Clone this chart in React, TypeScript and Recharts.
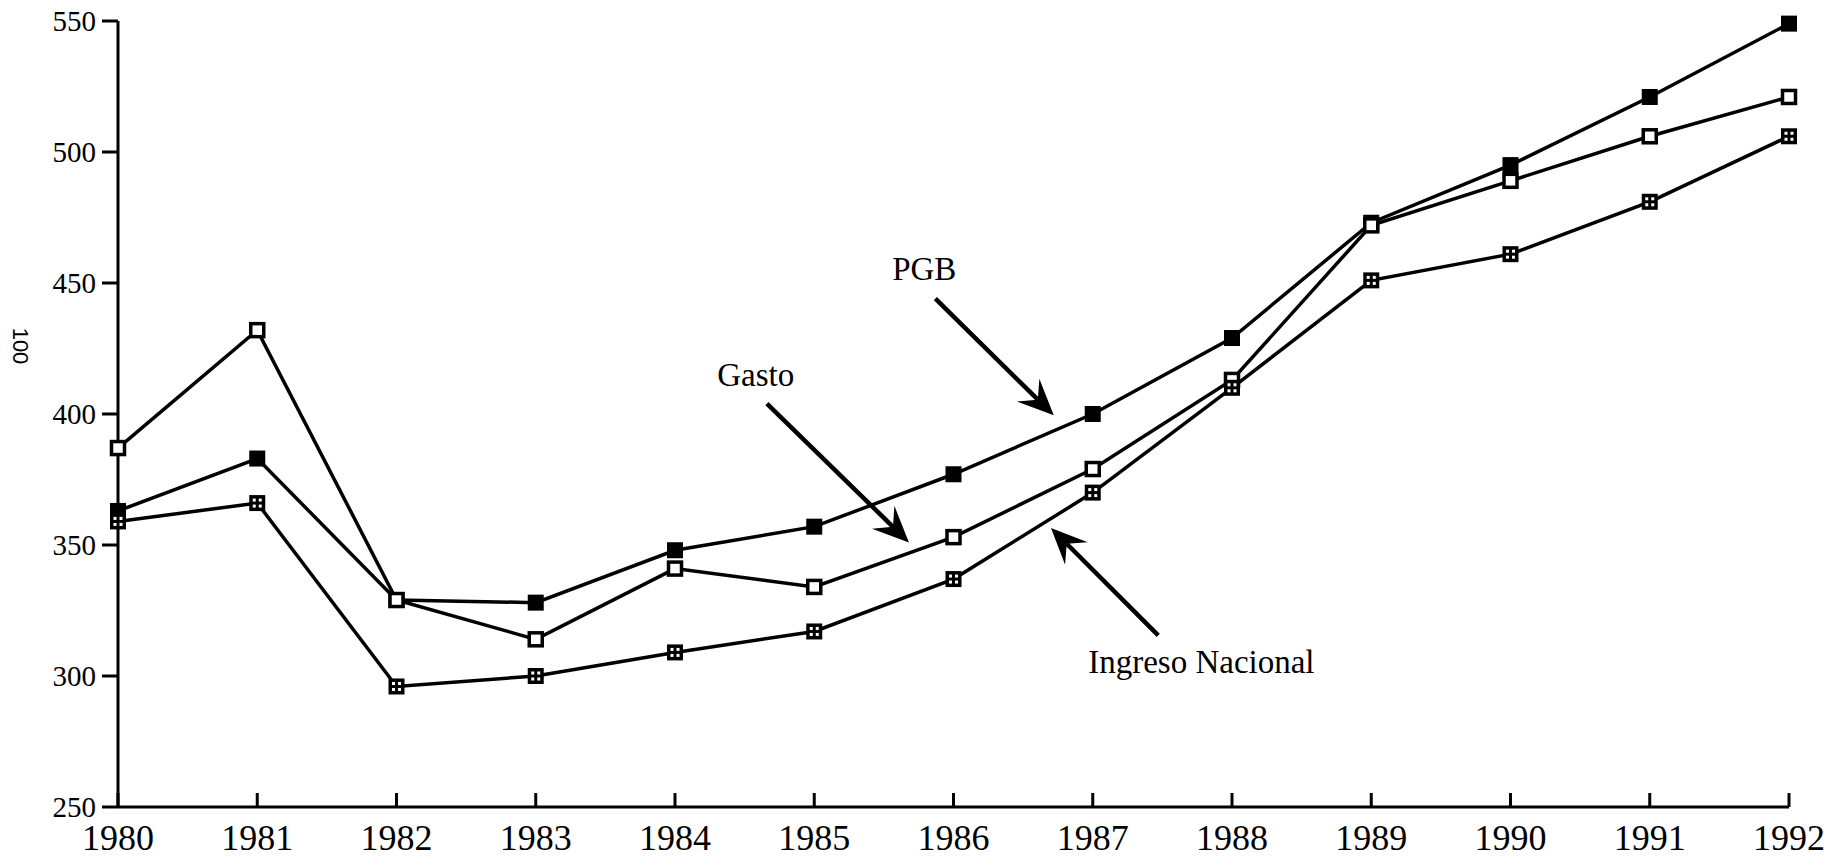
import React from 'react';
import { LineChart, Line, XAxis, YAxis, ReferenceLine, ReferenceDot, Label } from 'recharts';

const years = [1980, 1981, 1982, 1983, 1984, 1985, 1986, 1987, 1988, 1989, 1990, 1991, 1992];
const pgb = [363, 383, 329, 328, 348, 357, 377, 400, 429, 473, 495, 521, 549];
const gasto = [387, 432, 329, 314, 341, 334, 353, 379, 413, 472, 489, 506, 521];
const ingreso = [359, 366, 296, 300, 309, 317, 337, 370, 410, 451, 461, 481, 506];
const yTicks = [250, 300, 350, 400, 450, 500, 550];

// annotation arrows [from, to] in data coordinates
const arrows = [
  { from: { x: 1985.87, y: 444 }, to: { x: 1986.72, y: 399.5 } },
  { from: { x: 1984.66, y: 404 }, to: { x: 1985.68, y: 351 } },
  { from: { x: 1987.47, y: 315.5 }, to: { x: 1986.7, y: 356.5 } },
];
const notes = [
  { text: 'PGB', x: 1985.79, y: 451 },
  { text: 'Gasto', x: 1984.58, y: 410.5 },
  { text: 'Ingreso Nacional', x: 1987.78, y: 301 },
];

const data = years.map((year, i) => ({ year, pgb: pgb[i], gasto: gasto[i], ingreso: ingreso[i] }));

const SERIF = '"Liberation Serif", "Times New Roman", serif';

const FilledDot = (props: any) => {
  const { cx, cy } = props;
  if (cx == null || cy == null) return null;
  return <rect x={cx - 8} y={cy - 8} width={16} height={16} fill="#000" />;
};

const OpenDot = (props: any) => {
  const { cx, cy } = props;
  if (cx == null || cy == null) return null;
  return <rect x={cx - 6.5} y={cy - 6.5} width={13} height={13} fill="#fff" stroke="#000" strokeWidth={3.5} />;
};

const GridDot = (props: any) => {
  const { cx, cy } = props;
  if (cx == null || cy == null) return null;
  return (
    <g>
      <rect x={cx - 8} y={cy - 8} width={16} height={16} fill="#000" />
      <rect x={cx - 4.5} y={cy - 4.5} width={3} height={3} fill="#fff" />
      <rect x={cx + 1.5} y={cy - 4.5} width={3} height={3} fill="#fff" />
      <rect x={cx - 4.5} y={cy + 1.5} width={3} height={3} fill="#fff" />
      <rect x={cx + 1.5} y={cy + 1.5} width={3} height={3} fill="#fff" />
    </g>
  );
};

const Arrow = (props: any) => {
  const { x1, y1, x2, y2 } = props;
  const dx = x2 - x1;
  const dy = y2 - y1;
  const len = Math.sqrt(dx * dx + dy * dy);
  const ux = dx / len;
  const uy = dy / len;
  const px = -uy;
  const py = ux;
  const L = 36;
  const W = 16;
  const bx = x2 - ux * L;
  const by = y2 - uy * L;
  const nx = x2 - ux * L * 0.62;
  const ny = y2 - uy * L * 0.62;
  const pts = [
    [x2, y2],
    [bx + px * W, by + py * W],
    [nx, ny],
    [bx - px * W, by - py * W],
  ].map(p => p.join(',')).join(' ');
  return (
    <g>
      <line x1={x1} y1={y1} x2={nx} y2={ny} stroke="#000" strokeWidth={4.5} />
      <polygon points={pts} fill="#000" />
    </g>
  );
};

const XTick = (props: any) => {
  const { x, y, payload } = props;
  return (
    <g>
      <line x1={x} y1={y} x2={x} y2={y - 14} stroke="#000" strokeWidth={3} />
      <text x={x} y={y + 43} textAnchor="middle" fontSize={36} fontFamily={SERIF} fill="#000">
        {payload.value}
      </text>
    </g>
  );
};

export default function App() {
  return (
    <div style={{ width: 1833, height: 860, background: '#fff' }}>
      <style>{'body{margin:0}'}</style>
      <LineChart width={1833} height={860} data={data} margin={{ top: 21, right: 44, bottom: 0, left: 0 }}>
        <XAxis
          dataKey="year"
          type="number"
          domain={[1980, 1992]}
          ticks={years}
          interval={0}
          height={53}
          stroke="#000"
          strokeWidth={3}
          tickSize={0}
          tickMargin={0}
          tickLine={false}
          tick={<XTick />}
        />
        <YAxis
          domain={[250, 550]}
          ticks={yTicks}
          interval={0}
          width={118}
          stroke="#000"
          strokeWidth={3}
          tickSize={16}
          tickMargin={6}
          tick={{ fontSize: 29, fill: '#000', fontFamily: SERIF }}
        >
          <Label
            content={() => (
              <text
                x={13}
                y={346}
                transform="rotate(90 13 346)"
                textAnchor="middle"
                fontSize={22}
                fontFamily='"Liberation Sans", Arial, sans-serif'
                fill="#000"
              >
                100
              </text>
            )}
          />
        </YAxis>
        {notes.map(n => (
          <ReferenceDot
            key={n.text}
            x={n.x}
            y={n.y}
            r={0}
            fill="none"
            stroke="none"
            ifOverflow="visible"
            label={(p: any) => (
              <text
                x={p.viewBox.x}
                y={p.viewBox.y}
                textAnchor="middle"
                fontSize={33}
                fontFamily={SERIF}
                fill="#000"
              >
                {n.text}
              </text>
            )}
          />
        ))}
        <Line dataKey="pgb" stroke="#000" strokeWidth={3.5} dot={<FilledDot />} activeDot={false} isAnimationActive={false} />
        <Line dataKey="gasto" stroke="#000" strokeWidth={3.5} dot={<OpenDot />} activeDot={false} isAnimationActive={false} />
        <Line dataKey="ingreso" stroke="#000" strokeWidth={3.5} dot={<GridDot />} activeDot={false} isAnimationActive={false} />
        {arrows.map((a, i) => (
          <ReferenceLine key={i} segment={[a.from, a.to]} ifOverflow="visible" shape={<Arrow />} />
        ))}
      </LineChart>
    </div>
  );
}
